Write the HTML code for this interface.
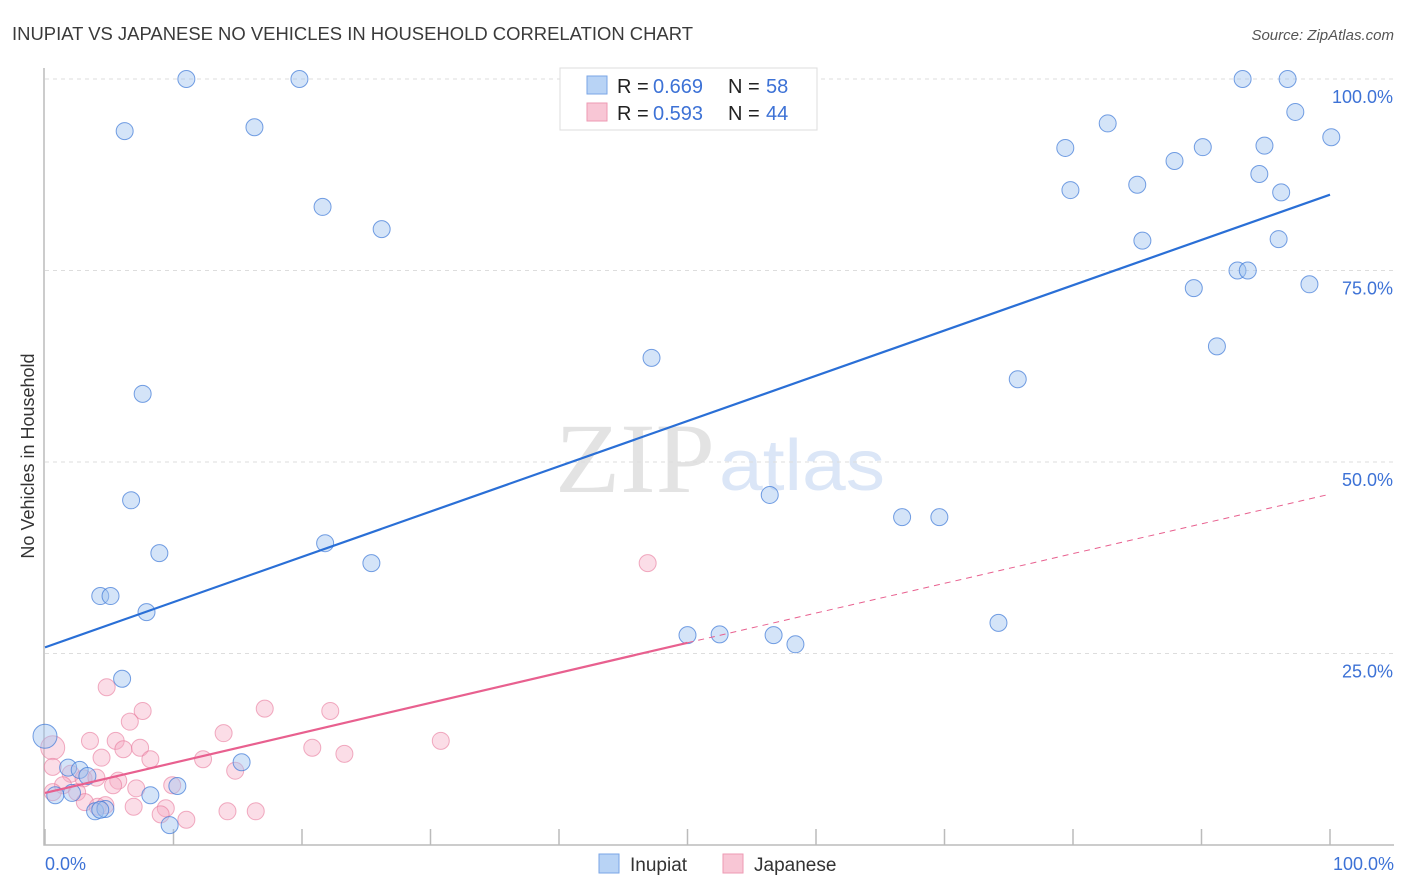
<!DOCTYPE html>
<html><head><meta charset="utf-8"><style>
body{margin:0;background:#fff;font-family:"Liberation Sans",sans-serif}
</style></head><body>
<svg width="1406" height="892" style="display:block">
<text x="12" y="40" font-size="18" fill="#3a3a3a" textLength="681" lengthAdjust="spacingAndGlyphs">INUPIAT VS JAPANESE NO VEHICLES IN HOUSEHOLD CORRELATION CHART</text>
<text x="1394" y="40" font-size="15" fill="#555" font-style="italic" text-anchor="end">Source: ZipAtlas.com</text>
<text x="555" y="492" font-size="100" fill="#e3e3e3" textLength="160" lengthAdjust="spacingAndGlyphs" font-family="Liberation Serif">ZIP</text>
<text x="719" y="490" font-size="72" fill="#dbe6f7" textLength="166" lengthAdjust="spacingAndGlyphs">atlas</text>
<g id="grid"></g>
<g id="axes"></g>
<g id="pts"></g>
<g id="lines"></g>
<text x="34" y="456" font-size="18" fill="#333" text-anchor="middle" transform="rotate(-90 34 456)">No Vehicles in Household</text>
<text x="45" y="870" font-size="18" fill="#3d72d6">0.0%</text>
<text x="1394" y="870" font-size="18" fill="#3d72d6" text-anchor="end">100.0%</text>
<g>
<rect x="560" y="68" width="257" height="62" fill="#fff" stroke="#ddd"/>
<rect x="587" y="76" width="20" height="18" fill="#b8d3f5" stroke="#7aa6e6"/>
<rect x="587" y="103" width="20" height="18" fill="#f8c6d5" stroke="#ee9ab3"/>
<text x="617" y="93" font-size="20" fill="#222">R =</text>
<text x="653" y="93" font-size="20" fill="#3d72d6">0.669</text>
<text x="728" y="93" font-size="20" fill="#222">N =</text>
<text x="766" y="93" font-size="20" fill="#3d72d6">58</text>
<text x="617" y="120" font-size="20" fill="#222">R =</text>
<text x="653" y="120" font-size="20" fill="#3d72d6">0.593</text>
<text x="728" y="120" font-size="20" fill="#222">N =</text>
<text x="766" y="120" font-size="20" fill="#3d72d6">44</text>
</g>
<g>
<rect x="599" y="854" width="20" height="19" fill="#b8d3f5" stroke="#7aa6e6"/>
<text x="630" y="871" font-size="19" fill="#333">Inupiat</text>
<rect x="723" y="854" width="20" height="19" fill="#f8c6d5" stroke="#ee9ab3"/>
<text x="754" y="871" font-size="19" fill="#333">Japanese</text>
</g>
</svg>
<script>
const yTicks=[25,50,75,100];
const yTickLabels=["25.0%","50.0%","75.0%","100.0%"];
const xTicks=[0,10,20,30,40,50,60,70,80,90,100];
const inupiatX=[11,19.8,6.2,16.3,21.6,26.2,7.6,6.7,8.9,4.3,5.1,7.9,6,21.8,25.4,47.2,56.4,50,52.5,56.7,58.4,66.7,69.6,74.2,75.7,79.4,79.8,82.7,85,85.4,87.9,89.4,90.1,91.2,92.8,93.6,93.2,94.5,94.9,96.2,96,96.7,97.3,98.4,100.1,0,0.8,2.1,1.8,2.7,3.3,3.9,4.7,8.2,10.3,9.7,15.3,4.3];
const inupiatY=[100,100,93.2,93.7,83.3,80.4,58.9,45,38.1,32.5,32.5,30.4,21.7,39.4,36.8,63.6,45.7,27.4,27.5,27.4,26.2,42.8,42.8,29,60.8,91,85.5,94.2,86.2,78.9,89.3,72.7,91.1,65.1,75,75,100,87.6,91.3,85.2,79.1,100,95.7,73.2,92.4,14.2,6.5,6.8,10.1,9.8,9,4.4,4.7,6.5,7.7,2.6,10.8,4.6];
const japaneseX=[4.8,7.6,6.6,3.5,5.5,6.1,7.4,4.4,8.2,13.9,17.1,22.2,20.8,23.3,12.3,14.8,0.6,0.6,2,3,4,5.7,5.3,7.1,9.9,1.4,0.6,2.5,3.1,4.1,4.7,6.9,9.4,9,11,14.2,16.4,46.9,30.8];
const japaneseY=[20.6,17.5,16.1,13.6,13.6,12.5,12.7,11.4,11.2,14.6,17.8,17.5,12.7,11.9,11.2,9.7,12.7,10.2,9.3,8.7,8.8,8.4,7.8,7.4,7.8,7.8,6.9,6.9,5.6,5,5.2,5,4.8,4,3.3,4.4,4.4,36.8,13.6];
const L=45,R=1330,T=79,B=845;
const sx=v=>L+(R-L)*v/100, sy=v=>B-(B-T)*v/100;
const NS="http://www.w3.org/2000/svg";
function mk(t,a,p){const e=document.createElementNS(NS,t);for(const k in a)e.setAttribute(k,a[k]);p.appendChild(e);return e;}
const grid=document.getElementById('grid'),axes=document.getElementById('axes'),pts=document.getElementById('pts'),lines=document.getElementById('lines');
yTicks.forEach((v,i)=>{
 const g=mk('line',{x1:L,x2:1394,y1:sy(v),y2:sy(v),stroke:'#ddd','stroke-dasharray':'4 4'},grid);
 
 
 const t=mk('text',{x:1393,y:sy(v)+24,'font-size':18,fill:'#3d72d6','text-anchor':'end'},grid);
 t.textContent=yTickLabels[i];
 
 
});
const ax=mk('path',{d:`M44 68 V${B} H1394`,stroke:'#bbb',fill:'none','stroke-width':1.5},axes);


xTicks.forEach(v=>{
 const t=mk('line',{x1:sx(v),x2:sx(v),y1:B,y2:B-16,stroke:'#bbb','stroke-width':1.5},axes);
 
 
});
japaneseX.forEach((x,i)=>{
 const c=mk('circle',{cx:sx(x),cy:sy(japaneseY[i]),r:x<1&&japaneseY[i]>12?12:8.5,fill:'rgba(246,170,195,0.4)',stroke:'rgba(232,120,155,0.6)','stroke-width':1},pts);
 
 
});
inupiatX.forEach((x,i)=>{
 const c=mk('circle',{cx:sx(x),cy:sy(inupiatY[i]),r:x===0?12:8.5,fill:'rgba(160,195,240,0.45)',stroke:'rgba(60,120,215,0.7)','stroke-width':1},pts);
 
 
});
const blueTrend=[0,25.8,100,84.9];
const pinkTrend=[0,6.8,50,26.4,100,45.8];
const b=mk('line',{x1:sx(blueTrend[0]),y1:sy(blueTrend[1]),x2:sx(blueTrend[2]),y2:sy(blueTrend[3]),stroke:'#2a6fd6','stroke-width':2.2},lines);


const p=mk('line',{x1:sx(pinkTrend[0]),y1:sy(pinkTrend[1]),x2:sx(pinkTrend[2]),y2:sy(pinkTrend[3]),stroke:'#e8608f','stroke-width':2.2},lines);


const pd=mk('line',{x1:sx(pinkTrend[2]),y1:sy(pinkTrend[3]),x2:sx(pinkTrend[4]),y2:sy(pinkTrend[5]),stroke:'#e8608f','stroke-width':1,'stroke-dasharray':'6 5'},lines);


</script>
</body></html>
